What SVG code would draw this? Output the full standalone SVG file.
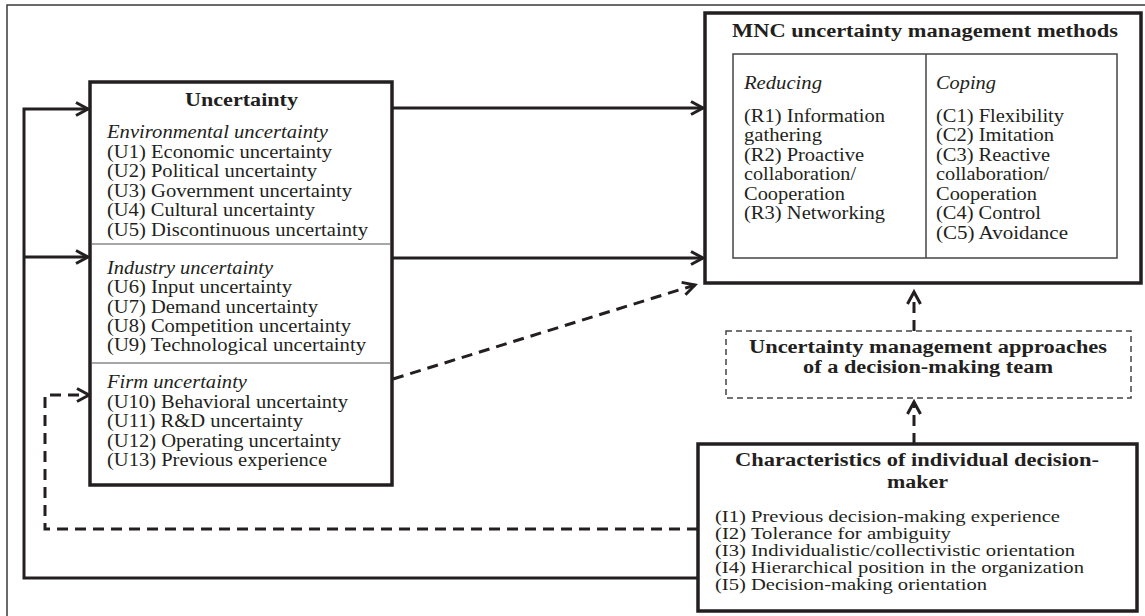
<svg xmlns="http://www.w3.org/2000/svg" width="1145" height="616" viewBox="0 0 1145 616">
<style>
.t{font-family:"Liberation Serif","Times New Roman",serif;font-size:18px;fill:#231f20}
.b{font-weight:bold}
.i{font-style:italic}
.s{font-size:16px}
.box{fill:#fff;stroke:#231f20;stroke-width:3.5}
.div{stroke:#8a8a8a;stroke-width:1.5}
.c{fill:none;stroke:#231f20;stroke-width:3}
.d{stroke-dasharray:11 7}
</style>
<defs>
<marker id="ah" markerUnits="userSpaceOnUse" markerWidth="18" markerHeight="18" refX="13" refY="8" orient="auto">
<path d="M1,1.5 L13,8 L1,14.5" fill="none" stroke="#231f20" stroke-width="3"/>
</marker>
</defs>
<rect width="1145" height="616" fill="#fff"/>
<path d="M7,616 V5 H1145" fill="none" stroke="#3a3a3a" stroke-width="1.5"/>

<g id="connectors">
<path class="c" d="M392,108 H703" marker-end="url(#ah)"/>
<path class="c" d="M392,258 H703" marker-end="url(#ah)"/>
<path class="c d" d="M393,379 L695,285" marker-end="url(#ah)"/>
<path class="c" d="M698,578 H24 V109 H88" marker-end="url(#ah)"/>
<path class="c" d="M24,257 H88" marker-end="url(#ah)"/>
<path class="c d" d="M698,529 H45 V395 H89" marker-end="url(#ah)"/>
<path class="c d" d="M914,444 V402" marker-end="url(#ah)"/>
<path class="c d" d="M914,331 V292" marker-end="url(#ah)"/>
</g>

<g id="uncertainty">
<rect class="box" x="90" y="82" width="302" height="403"/>
<line class="div" x1="92" y1="244" x2="390" y2="244"/>
<line class="div" x1="92" y1="363" x2="390" y2="363"/>
<text class="t b" x="185" y="105.5" textLength="113" lengthAdjust="spacingAndGlyphs">Uncertainty</text>
<text class="t i" x="107" y="138" textLength="221" lengthAdjust="spacingAndGlyphs">Environmental uncertainty</text>
<text class="t" x="107" y="158" textLength="225" lengthAdjust="spacingAndGlyphs">(U1) Economic uncertainty</text>
<text class="t" x="107" y="177" textLength="210" lengthAdjust="spacingAndGlyphs">(U2) Political uncertainty</text>
<text class="t" x="107" y="197" textLength="245" lengthAdjust="spacingAndGlyphs">(U3) Government uncertainty</text>
<text class="t" x="107" y="216" textLength="208" lengthAdjust="spacingAndGlyphs">(U4) Cultural uncertainty</text>
<text class="t" x="107" y="236" textLength="261" lengthAdjust="spacingAndGlyphs">(U5) Discontinuous uncertainty</text>
<text class="t i" x="107" y="274" textLength="166" lengthAdjust="spacingAndGlyphs">Industry uncertainty</text>
<text class="t" x="107" y="293" textLength="185" lengthAdjust="spacingAndGlyphs">(U6) Input uncertainty</text>
<text class="t" x="107" y="312.5" textLength="211" lengthAdjust="spacingAndGlyphs">(U7) Demand uncertainty</text>
<text class="t" x="107" y="332" textLength="244" lengthAdjust="spacingAndGlyphs">(U8) Competition uncertainty</text>
<text class="t" x="107" y="351" textLength="259" lengthAdjust="spacingAndGlyphs">(U9) Technological uncertainty</text>
<text class="t i" x="107" y="388" textLength="140" lengthAdjust="spacingAndGlyphs">Firm uncertainty</text>
<text class="t" x="107" y="407.5" textLength="241" lengthAdjust="spacingAndGlyphs">(U10) Behavioral uncertainty</text>
<text class="t" x="107" y="427" textLength="196" lengthAdjust="spacingAndGlyphs">(U11) R&amp;D uncertainty</text>
<text class="t" x="107" y="446.5" textLength="234" lengthAdjust="spacingAndGlyphs">(U12) Operating uncertainty</text>
<text class="t" x="107" y="466" textLength="220" lengthAdjust="spacingAndGlyphs">(U13) Previous experience</text>
</g>

<g id="methods">
<rect class="box" x="705" y="13" width="436" height="270"/>
<rect x="733" y="54" width="384" height="204" fill="none" stroke="#444" stroke-width="1.5"/>
<line x1="926" y1="54" x2="926" y2="258" stroke="#444" stroke-width="1.5"/>
<text class="t b" x="732" y="36.5" textLength="386" lengthAdjust="spacingAndGlyphs">MNC uncertainty management methods</text>
<text class="t i" x="744" y="89" textLength="78" lengthAdjust="spacingAndGlyphs">Reducing</text>
<text class="t" x="744" y="121.5" textLength="141" lengthAdjust="spacingAndGlyphs">(R1) Information</text>
<text class="t" x="744" y="141" textLength="78" lengthAdjust="spacingAndGlyphs">gathering</text>
<text class="t" x="744" y="160.5" textLength="120" lengthAdjust="spacingAndGlyphs">(R2) Proactive</text>
<text class="t" x="744" y="180" textLength="112" lengthAdjust="spacingAndGlyphs">collaboration/</text>
<text class="t" x="744" y="199.5" textLength="101" lengthAdjust="spacingAndGlyphs">Cooperation</text>
<text class="t" x="744" y="219" textLength="141" lengthAdjust="spacingAndGlyphs">(R3) Networking</text>
<text class="t i" x="936" y="89" textLength="60" lengthAdjust="spacingAndGlyphs">Coping</text>
<text class="t" x="936" y="121.5" textLength="128" lengthAdjust="spacingAndGlyphs">(C1) Flexibility</text>
<text class="t" x="936" y="141" textLength="118" lengthAdjust="spacingAndGlyphs">(C2) Imitation</text>
<text class="t" x="936" y="160.5" textLength="114" lengthAdjust="spacingAndGlyphs">(C3) Reactive</text>
<text class="t" x="936" y="180" textLength="113" lengthAdjust="spacingAndGlyphs">collaboration/</text>
<text class="t" x="936" y="199.5" textLength="101" lengthAdjust="spacingAndGlyphs">Cooperation</text>
<text class="t" x="936" y="219" textLength="105" lengthAdjust="spacingAndGlyphs">(C4) Control</text>
<text class="t" x="936" y="238.5" textLength="132" lengthAdjust="spacingAndGlyphs">(C5) Avoidance</text>
</g>

<g id="team">
<rect x="726" y="331" width="405" height="67" fill="#fff" stroke="#444" stroke-width="1.5" stroke-dasharray="6 4"/>
<text class="t b" x="749" y="353" textLength="358" lengthAdjust="spacingAndGlyphs">Uncertainty management approaches</text>
<text class="t b" x="803" y="373" textLength="250" lengthAdjust="spacingAndGlyphs">of a decision-making team</text>
</g>

<g id="individual">
<rect class="box" x="698" y="444" width="439" height="167"/>
<text class="t b" x="735" y="466" textLength="364" lengthAdjust="spacingAndGlyphs">Characteristics of individual decision-</text>
<text class="t b" x="887" y="488" textLength="61" lengthAdjust="spacingAndGlyphs">maker</text>
<text class="t s" x="715" y="521.5" textLength="345" lengthAdjust="spacingAndGlyphs">(I1) Previous decision-making experience</text>
<text class="t s" x="715" y="538.5" textLength="236" lengthAdjust="spacingAndGlyphs">(I2) Tolerance for ambiguity</text>
<text class="t s" x="715" y="555.5" textLength="360" lengthAdjust="spacingAndGlyphs">(I3) Individualistic/collectivistic orientation</text>
<text class="t s" x="715" y="572.5" textLength="369" lengthAdjust="spacingAndGlyphs">(I4) Hierarchical position in the organization</text>
<text class="t s" x="715" y="589.5" textLength="272" lengthAdjust="spacingAndGlyphs">(I5) Decision-making orientation</text>
</g>
</svg>
